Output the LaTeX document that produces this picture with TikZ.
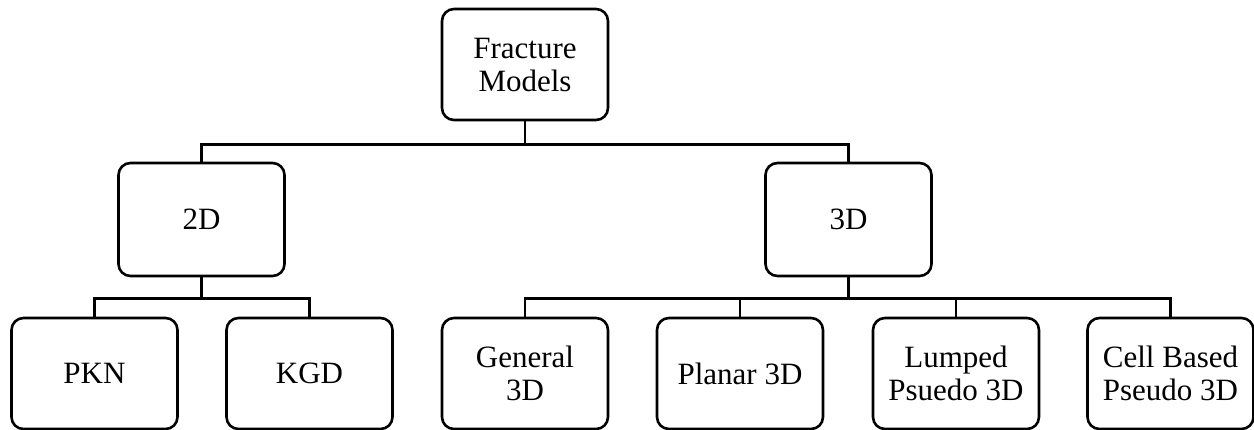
\documentclass[tikz,border=0pt]{standalone}
\usepackage{fontspec}
\setmainfont{Liberation Serif}
\usepackage{tikz}
\usetikzlibrary{positioning}

\begin{document}
\begin{tikzpicture}[
            x = 1pt, y = -1pt, % pixel grid, y downwards
            line width = 2.6pt, % line style
            font = \fontsize{31}{33}\selectfont
        ]

        \tikzset{
            model/.style = {
                draw = black,
                rounded corners = 12pt,
                minimum width = 166pt,
                minimum height = 111pt,
                align = center,
                inner sep = 0pt
            },
            link/.style = {draw = black, line width = 2.6pt}
        }

        \useasboundingbox (0,0) rectangle (1254,429);

        \node[model] (fm) at (525,64.5) {Fracture\\Models};
        \node[model, minimum height = 113pt] (d2) at (201.5,219.5) {2D};
        \node[model, minimum height = 113pt] (d3) at (848.5,219.5) {3D};

        \node[model] (pkn) at (94.5,373.5) {PKN};
        \node[model] (kgd) at (309.5,373.5) {KGD};
        \node[model] (gen) at (525,373.5) {General\\3D};
        \node[model] (pla) at (740,373.5) {Planar 3D};
        \node[model] (lum) at (956,373.5) {Lumped\\Psuedo 3D};
        \node[model] (cel) at (1170.5,373.5) {Cell Based\\Pseudo 3D};

        \path[link] (fm.south) -- ++(0,23) -| (d2.north);
        \path[link] (fm.south) -- ++(0,23) -| (d3.north);
        \path[link] (d2.south) -- ++(0,21) -| (pkn.north);
        \path[link] (d2.south) -- ++(0,21) -| (kgd.north);
        \path[link] (d3.south) -- ++(0,21) -| (gen.north);
        \path[link] (d3.south) -- ++(0,21) -| (pla.north);
        \path[link] (d3.south) -- ++(0,21) -| (lum.north);
        \path[link] (d3.south) -- ++(0,21) -| (cel.north);
    \end{tikzpicture}
\end{document}
